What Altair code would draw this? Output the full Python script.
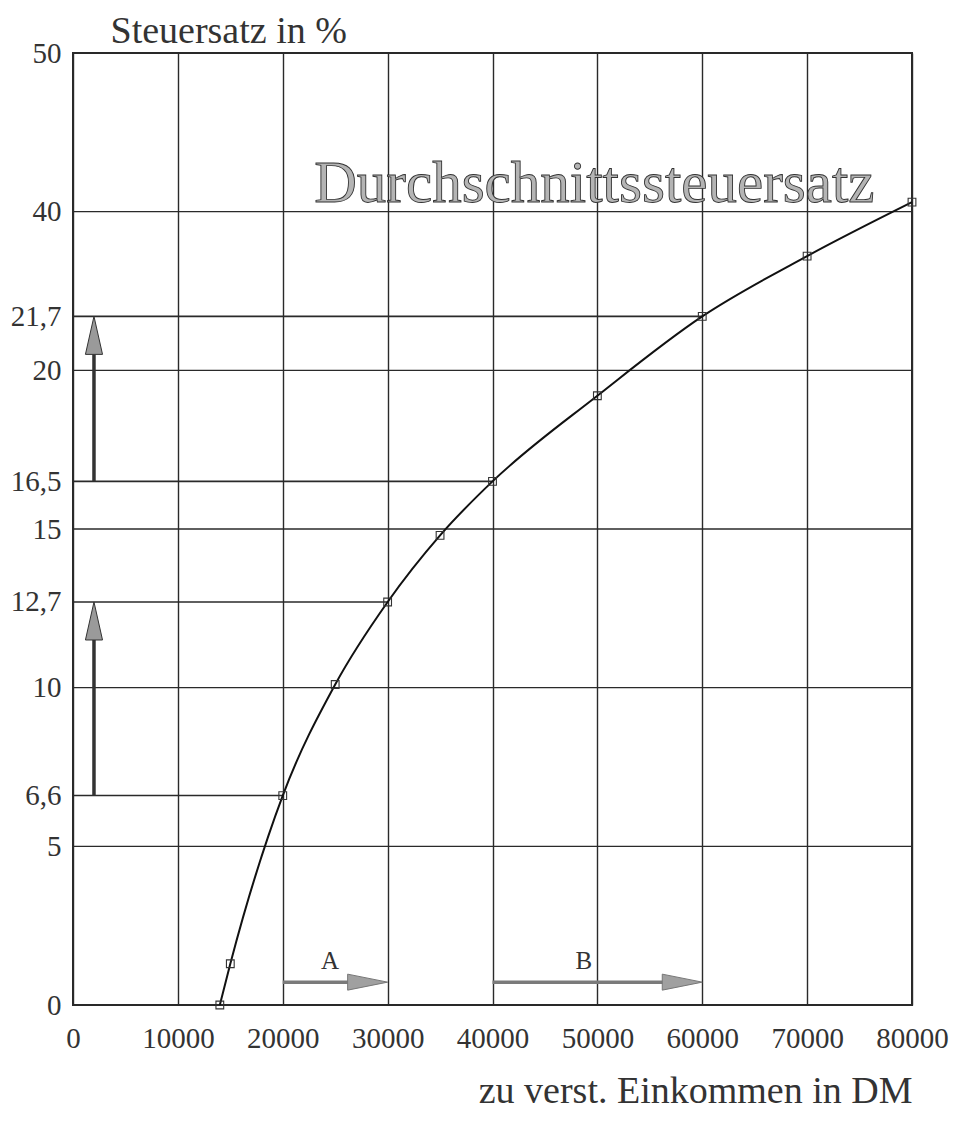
import altair as alt
import pandas as pd

# ---- data ----
income = [14000, 15000, 20000, 25000, 30000, 35000, 40000, 50000, 60000, 70000, 80000]
rate = [0.0, 1.3, 6.6, 10.1, 12.7, 14.8, 16.5, 19.2, 21.7, 23.6, 25.3]

ref_income = [20000, 30000, 40000, 60000]
ref_rate = [6.6, 12.7, 16.5, 21.7]

y_grid = [0, 5, 10, 15, 20, 25, 30]
y_tick_values = [0, 5, 6.6, 10, 12.7, 15, 16.5, 20, 21.7, 25, 30]
y_tick_labels = ["0", "5", "6,6", "10", "12,7", "15", "16,5", "20", "21,7", "40", "50"]
x_tick_values = [0, 10000, 20000, 30000, 40000, 50000, 60000, 70000, 80000]

v_arrow_x = [2000, 2000]
v_arrow_from = [6.6, 16.5]
v_arrow_to = [12.7, 21.7]

h_arrow_y = [0.72, 0.72]
h_arrow_from = [20000, 40000]
h_arrow_to = [30000, 60000]
h_labels = ["A", "B"]
h_label_x = [24500, 48700]
h_label_y = [1.4, 1.4]

curve_label = ["Durchschnittssteuersatz"]
curve_label_x = [23000]
curve_label_y = [25.3]

FONT = "Liberation Serif"
INK = "#2a2a2a"

# ---- tables ----
curve_df = pd.DataFrame({"income": income, "rate": rate})
grid_df = pd.DataFrame({"rate": y_grid})
ref_df = pd.DataFrame({"income": [0] * len(ref_income), "income2": ref_income, "rate": ref_rate})
varrow_df = pd.DataFrame({"income": v_arrow_x, "rate": v_arrow_from, "to": v_arrow_to})
harrow_df = pd.DataFrame({"income": h_arrow_from, "to": h_arrow_to, "rate": h_arrow_y})
hlabel_df = pd.DataFrame({"income": h_label_x, "rate": h_label_y, "t": h_labels})
clabel_df = pd.DataFrame({"income": curve_label_x, "rate": curve_label_y, "t": curve_label})

label_expr = "''"
for v, l in reversed(list(zip(y_tick_values, y_tick_labels))):
    label_expr = f"datum.value == {v} ? '{l}' : ({label_expr})"

xs = alt.Scale(domain=[0, 80000], nice=False, zero=False)
ys = alt.Scale(domain=[0, 30], nice=False, zero=False)

x_axis = alt.Axis(
    values=x_tick_values, format="d", grid=True, gridColor=INK, gridWidth=1.4,
    ticks=False, domain=False, labelFont=FONT, labelFontSize=29, labelColor="#333",
    labelPadding=19, labelFlush=False, labelBound=False, labelOverlap=False,
    title="zu verst. Einkommen in DM", titleFont=FONT, titleFontSize=38,
    titleFontWeight="normal", titleColor="#333", titleAnchor="end", titleAlign="right",
    titleBaseline="alphabetic", titleX=839, titleY=97,
)
y_axis = alt.Axis(
    values=y_tick_values, labelExpr=label_expr, grid=False, ticks=False, domain=False,
    labelFont=FONT, labelFontSize=29, labelColor="#333", labelPadding=12,
    labelFlush=False, labelBound=False, labelOverlap=False,
    title="Steuersatz in %", titleFont=FONT, titleFontSize=38, titleFontWeight="normal",
    titleColor="#333", titleAngle=0, titleAlign="left", titleBaseline="alphabetic",
    titleX=37, titleY=-11,
)

X = alt.X("income:Q", scale=xs, axis=x_axis)
Y = alt.Y("rate:Q", scale=ys, axis=y_axis)

grid = alt.Chart(grid_df).mark_rule(color=INK, strokeWidth=1.4).encode(y=Y)

refs = alt.Chart(ref_df).mark_rule(color=INK, strokeWidth=1.6).encode(
    x=X, x2="income2:Q", y=Y
)

curve = alt.Chart(curve_df).mark_line(
    color="#111", strokeWidth=2, interpolate="monotone"
).encode(x=X, y=Y)

pts = alt.Chart(curve_df).mark_point(
    shape="square", size=60, filled=False, stroke="#333", strokeWidth=1.1, opacity=1
).encode(x=X, y=Y)

v_shaft = alt.Chart(varrow_df).transform_calculate(
    end="datum.to - 0.6"
).mark_rule(color="#333", strokeWidth=3.5).encode(x=X, y=Y, y2="end:Q")

v_head = alt.Chart(varrow_df).mark_point(
    shape="M0,0L-0.45,2L0.45,2Z", size=1444, filled=True, fill="#9a9a9a",
    stroke="#333", strokeWidth=1, opacity=1
).encode(x=X, y=alt.Y("to:Q", scale=ys))

h_shaft = alt.Chart(harrow_df).transform_calculate(
    end="datum.to - 1500"
).mark_rule(color="#7a7a7a", strokeWidth=3.5).encode(x=X, x2="end:Q", y=Y)

h_head = alt.Chart(harrow_df).mark_point(
    shape="M0,0L-2,-0.4L-2,0.4Z", size=1600, filled=True, fill="#a0a0a0",
    stroke="#777", strokeWidth=1, opacity=1
).encode(x=alt.X("to:Q", scale=xs), y=Y)

h_text = alt.Chart(hlabel_df).mark_text(
    font=FONT, fontSize=25, color="#333", baseline="middle", align="center"
).encode(x=X, y=Y, text="t:N")

c_text = alt.Chart(clabel_df).mark_text(
    font=FONT, fontSize=59, fill="#b4b4b4", stroke="#333", strokeWidth=0.9,
    baseline="alphabetic", align="left"
).encode(x=X, y=Y, text="t:N")

chart = alt.layer(
    grid, refs, curve, pts, v_shaft, v_head, h_shaft, h_head, h_text, c_text
).properties(
    width=839, height=952,
    padding={"left": 65, "top": 45, "right": 38, "bottom": 106},
    autosize=alt.AutoSizeParams(type="none"),
    background="white",
).configure_view(stroke=INK, strokeWidth=2)

chart.save("out.html", embed_options={"renderer": "svg", "actions": False})
